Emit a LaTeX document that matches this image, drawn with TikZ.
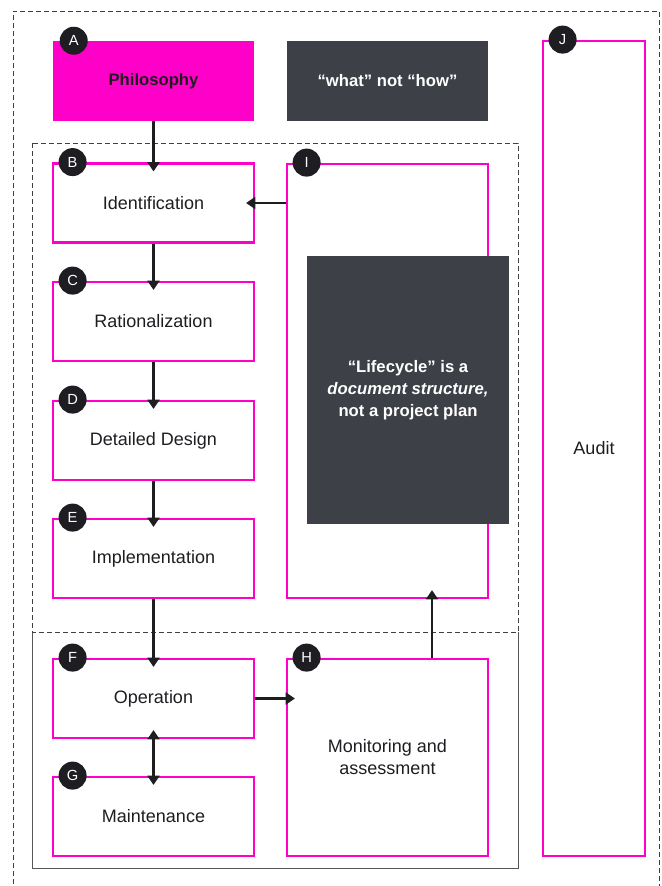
\documentclass[tikz,border=0pt]{standalone}
\usepackage{xcolor}
\usepackage{fontspec}
\setmainfont{Liberation Sans}
\usetikzlibrary{arrows.meta, calc}
\definecolor{lifepink}{HTML}{FF00C8}
\definecolor{slate}{HTML}{3E4048}
\definecolor{ink}{HTML}{1E1E22}

\begin{document}
\begin{tikzpicture}[x=0.75pt, y=-0.75pt, >={Triangle[length=7pt, width=9pt]},
  every node/.style={font=\fontsize{13.5}{16.5}\selectfont, text=ink},
  stage/.style={draw=lifepink, line width=2.1pt, fill=white, minimum width=150.75pt, minimum height=59.25pt, inner sep=0pt, align=center},
  note/.style={fill=slate, text=white, font=\bfseries\fontsize{12.5}{16.5}\selectfont, inner sep=0pt, align=center},
  badge/.style={circle, fill=ink, text=white, minimum size=21pt, inner sep=0pt, font=\fontsize{11}{11}\selectfont},
  flow/.style={->, line width=2pt, draw=ink, shorten >=-7pt},
  twoway/.style={flow, <->, shorten <=-7pt},
  region/.style={draw=ink!85, line width=0.75pt, dash pattern=on 3.75pt off 2.25pt}]
  \useasboundingbox (0,0) rectangle (661,886);
  \clip (0,0) rectangle (661,886);
  \fill[white] (0,0) rectangle (661,886);
  % regions
  \draw[region] (13,900) -- (13,11) -- (659,11) -- (659,900);
  \draw[draw=ink!75, line width=0.75pt] (32,632) -- (32,868) -- (518,868) -- (518,632);
  \draw[region] (32,143) rectangle (518,632);
  % top row
  \node[note, fill=lifepink, text=ink, minimum width=150.75pt, minimum height=60pt] (A) at (153.5,81) {Philosophy};
  \node[note, minimum width=150.75pt, minimum height=60pt] (what) at (387.5,81) {“what” not “how”};
  \node[stage, minimum width=76.5pt, minimum height=611.25pt] (J) at (594,448.5) {Audit};
  % lifecycle stages
  \node[stage] (B) at (153.5,203) {Identification};
  \node[stage] (C) at (153.5,321.5) {Rationalization};
  \node[stage] (D) at (153.5,440.5) {Detailed Design};
  \node[stage] (E) at (153.5,558.5) {Implementation};
  \node[stage] (F) at (153.5,698.5) {Operation};
  \node[stage] (G) at (153.5,816.5) {Maintenance};
  \node[stage, minimum height=325.5pt] (I) at (387.5,381) {};
  \node[stage, minimum height=147.75pt] (H) at (387.5,757.5) {Monitoring and\\assessment};
  \node[note, minimum width=151.5pt, minimum height=201pt] (lifecycle) at (408,390) {“Lifecycle” is a\\\textit{document structure,}\\not a project plan};
  % badges
  \foreach \b in {A,B,C,D,E,F,G,H,I,J}
    \node[badge, xshift=15.75pt] (badge\b) at (\b.north west) {\b};
  % connectors
  \draw[flow] (A) -- (B);
  \draw[flow] (B) -- (C);
  \draw[flow] (C) -- (D);
  \draw[flow] (D) -- (E);
  \draw[flow] (E) -- (F);
  \draw[twoway] (F) -- (G);
  \draw[flow] (F) -- (F -| H.west);
  \draw[flow] (I.west |- B) -- (B);
  \draw[flow] ($(H.north)+(44.5,0)$) -- ($(I.south)+(44.5,0)$);
\end{tikzpicture}
\end{document}
